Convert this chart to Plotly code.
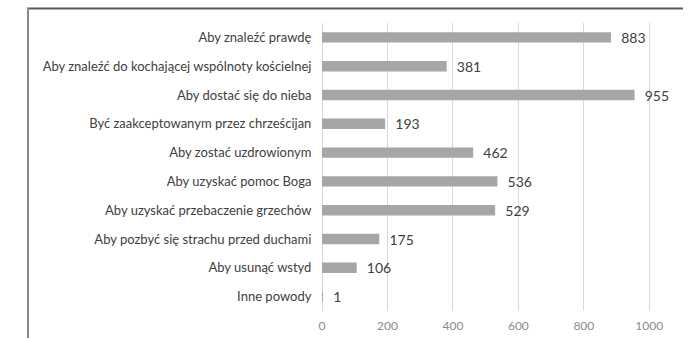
import plotly.graph_objects as go

categories = [
    "Aby znaleźć prawdę",
    "Aby znaleźć do kochającej wspólnoty kościelnej",
    "Aby dostać się do nieba",
    "Być zaakceptowanym przez chrześcijan",
    "Aby zostać uzdrowionym",
    "Aby uzyskać pomoc Boga",
    "Aby uzyskać przebaczenie grzechów",
    "Aby pozbyć się strachu przed duchami",
    "Aby usunąć wstyd",
    "Inne powody",
]
values = [883, 381, 955, 193, 462, 536, 529, 175, 106, 1]
x_ticks = [0, 200, 400, 600, 800, 1000]

fig = go.Figure(go.Bar(
    y=categories,
    x=values,
    orientation="h",
    marker=dict(color="#a6a6a6", line=dict(width=0)),
    text=["\u00a0\u00a0" + str(v) for v in values],
    textposition="outside",
    constraintext="none",
    cliponaxis=False,
    textfont=dict(family="Lato, Open Sans, sans-serif", size=14, color="#404040"),
))

L, R, T, B = 322, 11, 23, 27
W, H = 693, 338
pw = W - L - R
ph = H - T - B

def px_x(p):
    return (p - L) / pw

def px_y(p):
    return (H - B - p) / ph

fig.update_layout(
    width=W, height=H,
    margin=dict(l=L, r=R, t=T, b=B, pad=0, autoexpand=False),
    paper_bgcolor="white",
    plot_bgcolor="white",
    bargap=0.64,
    showlegend=False,
    font=dict(family="Lato, Open Sans, sans-serif"),
    xaxis=dict(
        range=[0, 1100],
        tickvals=x_ticks,
        ticktext=[str(t) for t in x_ticks],
        showgrid=True, gridcolor="#d9d9d9", gridwidth=1,
        zeroline=True, zerolinecolor="#d9d9d9", zerolinewidth=1,
        showline=False,
        tickfont=dict(size=12, color="#8c8c8c"),
        ticks="outside", ticklen=4, tickcolor="rgba(0,0,0,0)",
        automargin=False,
    ),
    yaxis=dict(
        autorange="reversed",
        showgrid=False, showline=False, zeroline=False,
        tickfont=dict(size=13, color="#404040"),
        ticks="outside", ticklen=7, tickcolor="rgba(0,0,0,0)",
        automargin=False,
    ),
    shapes=[
        dict(type="line", xref="paper", yref="paper", layer="above",
             x0=px_x(27), x1=px_x(683), y0=px_y(8.5), y1=px_y(8.5),
             line=dict(color="#5a5a5a", width=2)),
        dict(type="line", xref="paper", yref="paper", layer="above",
             x0=px_x(28), x1=px_x(28), y0=px_y(8), y1=px_y(340),
             line=dict(color="#8a8a8a", width=2)),
    ],
)

fig.write_html(
    "out.html",
    config={"displayModeBar": False},
    post_script="document.body.style.margin='0';document.body.style.overflow='hidden';",
)
